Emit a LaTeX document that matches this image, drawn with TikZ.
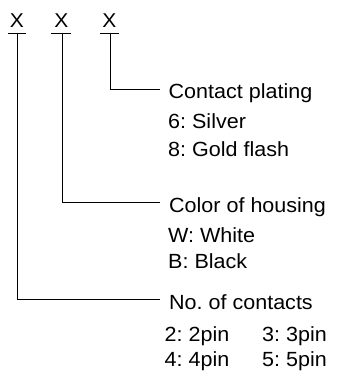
\documentclass[tikz,border=0pt]{standalone}
\usepackage{fontspec}
\setmainfont[FakeStretch=1.05]{Liberation Sans}
\begin{document}
\frenchspacing
\begin{tikzpicture}[x=1pt,y=-1pt,
  lbl/.style={anchor=base west,inner sep=0pt,font=\fontsize{20.5}{24}\selectfont},
  xsym/.style={anchor=base,inner sep=0pt,font=\fontsize{20}{24}\selectfont},
  conn/.style={line width=0.8pt,black}]
\useasboundingbox (0,0) rectangle (338,382);
% X marks
\node[xsym] (x1) at (17,28) {X};
\node[xsym] (x2) at (61.5,28) {X};
\node[xsym] (x3) at (109.5,28) {X};
% bars under marks
\coordinate (b1l) at (8,33);  \coordinate (b1r) at (26,33);
\coordinate (b2l) at (51,33); \coordinate (b2r) at (71,33);
\coordinate (b3l) at (100,33);\coordinate (b3r) at (119,33);
\coordinate (t1) at (17,33);  \coordinate (t2) at (62,33); \coordinate (t3) at (110,33);
% labels
\node[lbl] (cp) at (168.5,98.5) {Contact plating};
\node[lbl] (cp1) at (168,129) {6: Silver};
\node[lbl] (cp2) at (168,157) {8: Gold flash};
\node[lbl] (ch) at (169,212) {Color of housing};
\node[lbl] (ch1) at (168,242) {W: White};
\node[lbl] (ch2) at (168,268.5) {B: Black};
\node[lbl] (nc) at (169,309) {No. of contacts};
\node[lbl] (nc1) at (164.5,341.5) {2: 2pin};
\node[lbl] (nc2) at (262,341.5) {3: 3pin};
\node[lbl] (nc3) at (164.5,366.5) {4: 4pin};
\node[lbl] (nc4) at (262,366.5) {5: 5pin};
% line ends
\coordinate (e3) at (160,89);
\coordinate (e2) at (160,202);
\coordinate (e1) at (160,299);
% connectors
\draw[conn] (b1l) -- (b1r);
\draw[conn] (b2l) -- (b2r);
\draw[conn] (b3l) -- (b3r);
\draw[conn] (t3) |- (e3);
\draw[conn] (t2) |- (e2);
\draw[conn] (t1) |- (e1);
\end{tikzpicture}
\end{document}
